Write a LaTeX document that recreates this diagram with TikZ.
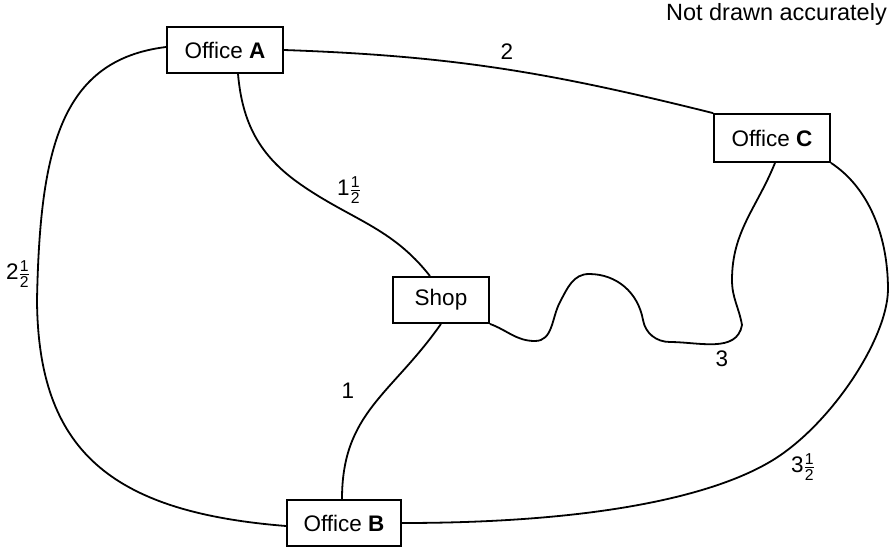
\documentclass[tikz,border=0pt]{standalone}
\usepackage{amsmath}
\usepackage{fontspec}
\setmainfont{Liberation Sans}
\newcommand\halfmark{\ensuremath{\genfrac{}{}{0.8pt}{1}{\text{1}}{\text{2}}}}
\begin{document}
\begin{tikzpicture}[x=1pt,y=-1pt,
  place/.style={draw,line width=1.8pt,inner sep=0pt,
    font=\fontsize{22.5}{26}\selectfont},
  road/.style={line width=1.8pt},
  dist/.style={font=\fontsize{22.5}{26}\selectfont,inner sep=1pt}]
\useasboundingbox (0,0) rectangle (895,549);

% places
\node[place,minimum width=116pt,minimum height=46pt] (A) at (225,50) {Office \textbf{A}};
\node[place,minimum width=116pt,minimum height=48pt] (C) at (772,138) {Office \textbf{C}};
\node[place,minimum width=96pt,minimum height=46pt] (S) at (441,300) {Shop};
\node[place,minimum width=114pt,minimum height=46pt] (B) at (344,523) {Office \textbf{B}};

% roads
\draw[road] (A.east) to[out=-2,in=166] (C.north west);
\draw[road] ([xshift=13pt]A.south) to[out=-85,in=145] (300,184)
  to[out=-35,in=128] ([xshift=-11pt]S.north);
\draw[road] ([yshift=3pt]A.west) .. controls (60,60) and (40,150) .. (37,300)
  .. controls (38,450) and (110,512) .. ([yshift=-3pt]B.west);
\draw[road] (S.south) to[out=-125,in=90,looseness=1.1] ([xshift=-2pt]B.north);
\draw[road] (S.south east) to[out=-20,in=180] (535,341)
  to[out=0,in=-118] (560,302)
  to[out=62,in=180] (589,274)
  to[out=0,in=100] (643,320)
  to[out=-80,in=180] (670,342)
  to[out=0,in=-100] (742,325)
  to[out=100,in=-90] (732,280)
  to[out=90,in=-112] ([xshift=3pt]C.south);
\draw[road] (C.south east) .. controls (865,185) and (888,230) .. (888,290)
  .. controls (887,340) and (830,425) .. (773,460)
  .. controls (716,495) and (600,523) .. (B.east);

% distances
\node[dist] (dAC) at (507,52) {2};
\node[dist] (dAS) at (349,190) {1\halfmark};
\node[dist] (dAB) at (18,274) {2\halfmark};
\node[dist] (dSB) at (348,391) {1};
\node[dist] (dSC) at (722,359) {3};
\node[dist] (dCB) at (803,467) {3\halfmark};

% note
\node[anchor=east,font=\fontsize{23.5}{28}\selectfont,inner sep=0pt] (note) at (887,14) {Not drawn accurately};
\end{tikzpicture}
\end{document}
